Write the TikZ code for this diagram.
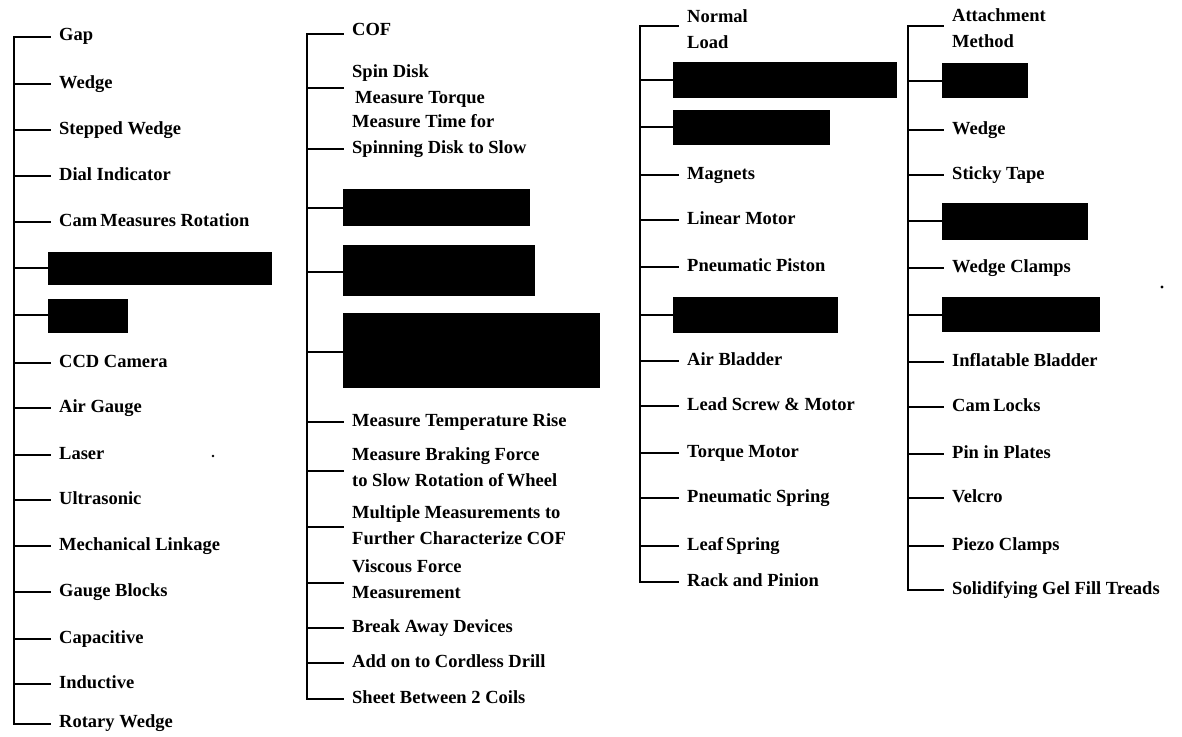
\documentclass[tikz,border=0pt]{standalone}
\usepackage{fontspec}
\setmainfont{Liberation Serif}
\begin{document}
\begin{tikzpicture}[x=1pt,y=-1pt,
  lbl/.style={anchor=west, inner xsep=9pt, inner ysep=0pt,
    font=\fontsize{18.5}{26}\selectfont\bfseries,
    text height=12.5pt, text depth=4pt},
  lbltwo/.style={anchor=west, inner xsep=9pt, inner ysep=0pt,
    font=\fontsize{18.5}{26}\selectfont\bfseries, align=left},
  redact/.style={fill=black, draw=none, anchor=north west, inner sep=0pt},
  ln/.style={line width=2.4pt, line cap=rect}]
\useasboundingbox (0,0) rectangle (1182,736);

% ---------------- Column 1 ----------------
\foreach \n/\ty/\ny/\t in {
  a1/37/36/Gap, a2/84/84/Wedge, a3/130/130/Stepped Wedge,
  a4/176/176/Dial Indicator, a5/222/222/Cam\,Measures Rotation,
  a8/363/363/CCD Camera, a9/408/408/Air Gauge, a10/455/455/Laser,
  a11/500/500/Ultrasonic, a12/546/546/Mechanical Linkage,
  a13/592/592/Gauge Blocks, a14/639/639/Capacitive,
  a15/684/684/Inductive, a16/724/723/Rotary Wedge}{
  \node[lbl] (\n) at (50,\ny) {\t};
  \coordinate (s\n) at (14,\ty);
  \draw[ln] (s\n) -- (s\n -| \n.west);
}
\node[redact, minimum width=224pt, minimum height=33pt] (a6) at (48,252) {};
\node[redact, minimum width=80pt, minimum height=34pt] (a7) at (48,299) {};
\coordinate (sa6) at (14,268);
\coordinate (sa7) at (14,315);
\draw[ln] (sa6) -- (sa6 -| a6.west);
\draw[ln] (sa7) -- (sa7 -| a7.west);
\draw[ln] (sa1) -- (sa16);

% ---------------- Column 2 ----------------
\foreach \n/\ty/\ny/\t in {
  b1/34/31/COF,
  b7/422/422/Measure Temperature Rise,
  b11/628/628/Break Away Devices,
  b12/663/663/Add on to Cordless Drill,
  b13/699/699/Sheet Between 2 Coils}{
  \node[lbl] (\n) at (343,\ny) {\t};
  \coordinate (s\n) at (307,\ty);
  \draw[ln] (s\n) -- (s\n -| \n.west);
}
\foreach \n/\ty/\ny/\t in {
  b2/88/86/{Spin Disk\\\hspace{3pt}Measure Torque},
  b3/149/136/{Measure Time for\\Spinning Disk to Slow},
  b8/471/467/{Measure Braking Force\\to Slow Rotation of\,Wheel},
  b9/527/525/{Multiple Measurements to\\Further Characterize COF},
  b10/583/579/{Viscous Force\\Measurement}}{
  \node[lbltwo] (\n) at (343,\ny) {\t};
  \coordinate (s\n) at (307,\ty);
  \draw[ln] (s\n) -- (s\n -| \n.west);
}
\node[redact, minimum width=187pt, minimum height=37pt] (b4) at (343,189) {};
\node[redact, minimum width=192pt, minimum height=51pt] (b5) at (343,245) {};
\node[redact, minimum width=257pt, minimum height=75pt] (b6) at (343,313) {};
\coordinate (sb4) at (307,208);
\coordinate (sb5) at (307,272);
\coordinate (sb6) at (307,352);
\draw[ln] (sb4) -- (sb4 -| b4.west);
\draw[ln] (sb5) -- (sb5 -| b5.west);
\draw[ln] (sb6) -- (sb6 -| b6.west);
\draw[ln] (sb1) -- (sb13);

% ---------------- Column 3 ----------------
\node[lbltwo] (c1) at (678,29) {Normal\\Load};
\coordinate (sc1) at (640,26);
\draw[ln] (sc1) -- (sc1 -| c1.west);
\foreach \n/\ty/\ny/\t in {
  c4/175/175/Magnets, c5/220/220/Linear Motor,
  c6/267/267/Pneumatic Piston,
  c8/361/361/Air Bladder, c9/406/406/Lead Screw \& Motor,
  c10/453/453/Torque Motor, c11/498/498/Pneumatic Spring,
  c12/546/546/Leaf\,Spring, c13/582/582/Rack and Pinion}{
  \node[lbl] (\n) at (678,\ny) {\t};
  \coordinate (s\n) at (640,\ty);
  \draw[ln] (s\n) -- (s\n -| \n.west);
}
\node[redact, minimum width=224pt, minimum height=36pt] (c2) at (673,62) {};
\node[redact, minimum width=157pt, minimum height=35pt] (c3) at (673,110) {};
\node[redact, minimum width=165pt, minimum height=36pt] (c7) at (673,297) {};
\coordinate (sc2) at (640,80);
\coordinate (sc3) at (640,127);
\coordinate (sc7) at (640,315);
\draw[ln] (sc2) -- (sc2 -| c2.west);
\draw[ln] (sc3) -- (sc3 -| c3.west);
\draw[ln] (sc7) -- (sc7 -| c7.west);
\draw[ln] (sc1) -- (sc13);

% ---------------- Column 4 ----------------
\node[lbltwo] (d1) at (943,28) {Attachment\\Method};
\coordinate (sd1) at (908,26);
\draw[ln] (sd1) -- (sd1 -| d1.west);
\foreach \n/\ty/\ny/\t in {
  d3/130/130/Wedge, d4/175/175/Sticky Tape,
  d6/268/268/Wedge Clamps,
  d8/362/362/Inflatable Bladder, d9/407/407/Cam\,Locks,
  d10/454/454/Pin in Plates, d11/498/498/Velcro,
  d12/546/546/Piezo Clamps, d13/590/590/Solidifying Gel Fill Treads}{
  \node[lbl] (\n) at (943,\ny) {\t};
  \coordinate (s\n) at (908,\ty);
  \draw[ln] (s\n) -- (s\n -| \n.west);
}
\node[redact, minimum width=86pt, minimum height=35pt] (d2) at (942,63) {};
\node[redact, minimum width=146pt, minimum height=37pt] (d5) at (942,203) {};
\node[redact, minimum width=158pt, minimum height=35pt] (d7) at (942,297) {};
\coordinate (sd2) at (908,81);
\coordinate (sd5) at (908,221);
\coordinate (sd7) at (908,315);
\draw[ln] (sd2) -- (sd2 -| d2.west);
\draw[ln] (sd5) -- (sd5 -| d5.west);
\draw[ln] (sd7) -- (sd7 -| d7.west);
\draw[ln] (sd1) -- (sd13);

% stray specks
\fill (213,456) circle (1.3pt);
\fill (1162,287) circle (1.6pt);
\end{tikzpicture}
\end{document}
